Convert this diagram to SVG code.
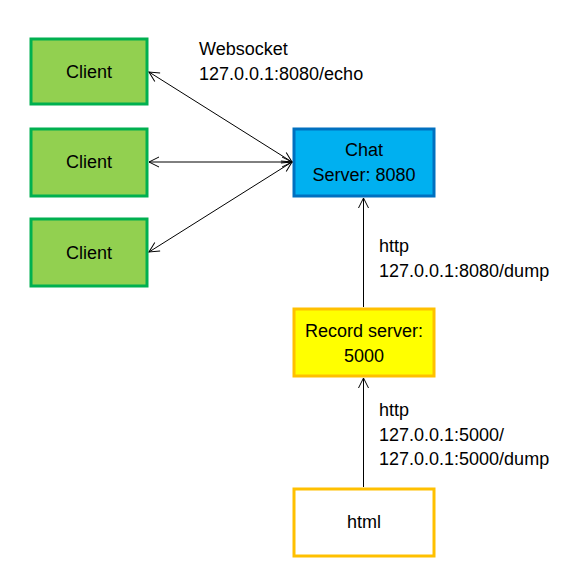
<svg xmlns="http://www.w3.org/2000/svg" width="585" height="584" viewBox="0 0 585 584">
<defs>
<style>
text{font-family:"Liberation Sans",Arial,sans-serif;font-size:18px;fill:#000}
.c{text-anchor:middle}
.client rect{fill:#92D050;stroke:#00B050;stroke-width:3}
.conn line{stroke:#000;stroke-width:1;fill:none}
</style>
<marker id="a" viewBox="0 0 12 12" refX="11" refY="6" markerWidth="12" markerHeight="12" markerUnits="userSpaceOnUse" orient="auto-start-reverse">
<path d="M1,1 L11,6 L1,11" fill="none" stroke="#000" stroke-width="1"/>
</marker>
</defs>
<rect width="585" height="584" fill="#fff"/>
<g id="client1" class="client"><rect x="31" y="39" width="116" height="65"/><text class="c" x="89" y="78">Client</text></g>
<g id="client2" class="client"><rect x="31" y="129" width="116" height="67"/><text class="c" x="89" y="168">Client</text></g>
<g id="client3" class="client"><rect x="31" y="219" width="116" height="67"/><text class="c" x="89" y="259">Client</text></g>
<g id="chat"><rect x="294" y="129" width="140" height="67" fill="#00B0F0" stroke="#0070C0" stroke-width="3"/><text class="c" x="364" y="156">Chat</text><text class="c" x="364" y="181">Server: 8080</text></g>
<g id="record"><rect x="294" y="309" width="140" height="67" fill="#FFFF00" stroke="#FFC000" stroke-width="3"/><text class="c" x="364" y="337">Record server:</text><text class="c" x="364" y="362">5000</text></g>
<g id="html"><rect x="294" y="489" width="140" height="67" fill="#fff" stroke="#FFC000" stroke-width="3"/><text class="c" x="364" y="528">html</text></g>
<g id="connectors" class="conn">
<line x1="149" y1="72" x2="292" y2="162" marker-start="url(#a)" marker-end="url(#a)"/>
<line x1="149" y1="162" x2="292" y2="162" marker-start="url(#a)" marker-end="url(#a)"/>
<line x1="149" y1="252" x2="292" y2="162" marker-start="url(#a)" marker-end="url(#a)"/>
<line x1="363.5" y1="307" x2="363.5" y2="198" marker-end="url(#a)"/>
<line x1="363.5" y1="487" x2="363.5" y2="378" marker-end="url(#a)"/>
</g>
<g id="labels">
<text x="199" y="55">Websocket</text>
<text x="199" y="80">127.0.0.1:8080/echo</text>
<text x="379" y="252">http</text>
<text x="379" y="277">127.0.0.1:8080/dump</text>
<text x="379" y="416">http</text>
<text x="379" y="441">127.0.0.1:5000/</text>
<text x="379" y="465">127.0.0.1:5000/dump</text>
</g>
</svg>
